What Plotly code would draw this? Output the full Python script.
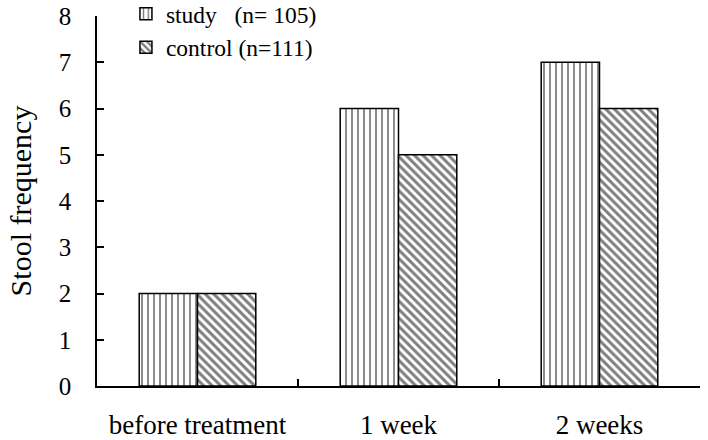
import plotly.graph_objects as go

categories = ["before treatment", "1 week", "2 weeks"]
study = [2, 6, 7]
control = [2, 5, 6]
study_name = "study\u00a0\u00a0\u00a0(n=\u00a0105)"
control_name = "control\u00a0(n=111)"

font = "Liberation Serif, Times New Roman, serif"

fig = go.Figure()
fig.add_trace(go.Bar(
    x=categories, y=study, name=study_name,
    marker=dict(color="white", line=dict(color="black", width=1.5),
                pattern=dict(shape="|", fgcolor="black", bgcolor="white", size=6, solidity=0.3)),
))
fig.add_trace(go.Bar(
    x=categories, y=control, name=control_name,
    marker=dict(color="white", line=dict(color="black", width=1.5),
                pattern=dict(shape="\\", fgcolor="black", bgcolor="white", size=6, solidity=0.5)),
))

fig.update_layout(
    width=708, height=440,
    margin=dict(l=97, r=8, t=16, b=54, autoexpand=False),
    paper_bgcolor="white", plot_bgcolor="white",
    barmode="group", bargap=0.42, bargroupgap=0,
    font=dict(family=font, size=26, color="black"),
    showlegend=True,
    legend=dict(x=0.048, y=1.065, xanchor="left", yanchor="top",
                bgcolor="rgba(0,0,0,0)", font=dict(size=23.5), tracegroupgap=0,
                itemwidth=30),
    xaxis=dict(showline=True, linecolor="black", linewidth=1.5,
               ticks="inside", ticklen=7, tickcolor="black", tickwidth=1.5,
               tickson="boundaries", showgrid=False, ticklabelstandoff=14,
               tickfont=dict(size=27), automargin=False),
    yaxis=dict(range=[0, 8], dtick=1, showline=True, linecolor="black", linewidth=1.5,
               ticks="inside", ticklen=7, tickcolor="black", tickwidth=1.5,
               showgrid=False, zeroline=False, tickfont=dict(size=25),
               ticklabelstandoff=19, automargin=False,
               title=dict(text="Stool frequency", font=dict(size=30), standoff=18)),
)

fig.write_html("out.html", config={"displayModeBar": False},
               post_script="document.body.style.margin='0';")
